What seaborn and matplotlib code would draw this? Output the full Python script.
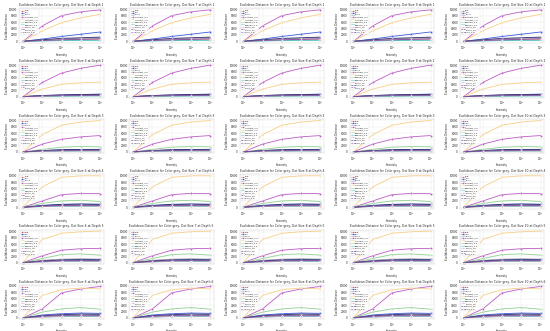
import matplotlib
matplotlib.use("Agg")
import matplotlib.pyplot as plt
import seaborn as sns
import pandas as pd

sns.set_theme(style="whitegrid")
plt.rcParams['font.family'] = ['DejaVu Sans']

depths = [1, 2, 3, 4, 5, 6]
dot_sizes = [6, 7, 8, 9, 10]
x_labels = ["$10^{0}$", "$10^{1}$", "$10^{2}$", "$10^{3}$", "$10^{4}$"]
x_pos = [0, 1, 2, 3, 4]

series_names = ["orig", "blur", "noise", "contrast_0.5", "contrast_1.5",
                "gamma_0.5", "gamma_2.0", "rotate_15", "rotate_45", "scale_0.8"]
series_colors = ['#d6616b', '#3b5bdb', '#9e9e9e', '#bb5cc4', '#f7cf86',
                 '#8fd18f', '#4fc3c7', '#f4a6c6', '#2b2d6e', '#7b4fa0']
series_markers = ['o', 's', '^', 'D', 'v', '<', '>', 'p', '*', 'x']

# values per depth (rows), one list per series
depth1 = [
    [0, 200, 400, 500, 600],
    [0, 700, 1500, 2200, 2900],
    [0, 400, 700, 900, 1100],
    [0, 4800, 8000, 9200, 9800],
    [0, 3300, 5800, 7300, 8400],
    [0, 150, 300, 400, 450],
    [0, 100, 200, 250, 300],
    [0, 300, 500, 600, 700],
    [0, 500, 900, 1100, 1300],
    [0, 250, 450, 600, 800],
]
depth2 = [
    [0, 150, 250, 300, 350],
    [0, 300, 500, 650, 800],
    [0, 250, 400, 500, 600],
    [0, 4500, 7500, 9000, 10000],
    [0, 2400, 3900, 4400, 4600],
    [0, 120, 200, 250, 300],
    [0, 100, 150, 200, 220],
    [0, 200, 350, 400, 450],
    [0, 350, 550, 650, 700],
    [0, 200, 300, 380, 420],
]
depth3 = [
    [0, 200, 300, 350, 350],
    [0, 400, 650, 750, 800],
    [0, 350, 550, 600, 650],
    [0, 2500, 4000, 4800, 5200],
    [0, 5500, 8500, 9500, 10000],
    [0, 800, 1500, 1700, 1600],
    [0, 150, 250, 300, 300],
    [0, 250, 400, 450, 450],
    [0, 450, 700, 800, 800],
    [0, 300, 450, 500, 520],
]
depth4 = [
    [0, 250, 350, 400, 380],
    [0, 600, 900, 1000, 950],
    [0, 400, 650, 700, 680],
    [0, 2000, 4000, 4400, 4300],
    [0, 6500, 9500, 10000, 10000],
    [0, 1200, 2000, 2200, 1800],
    [0, 200, 300, 350, 330],
    [0, 300, 450, 500, 480],
    [0, 500, 900, 1000, 900],
    [0, 350, 550, 600, 580],
]
depth5 = [
    [0, 250, 400, 450, 420],
    [0, 600, 950, 1050, 1000],
    [0, 700, 1100, 1200, 1100],
    [0, 2200, 4000, 4500, 4600],
    [0, 7500, 9500, 10000, 10200],
    [0, 1300, 2600, 2800, 2400],
    [0, 200, 350, 380, 360],
    [0, 300, 500, 550, 520],
    [0, 500, 800, 900, 850],
    [0, 400, 600, 650, 620],
]
depth6 = [
    [0, 300, 450, 500, 480],
    [0, 900, 1300, 1500, 1400],
    [0, 600, 900, 1000, 950],
    [0, 2800, 7800, 9000, 9800],
    [0, 7000, 8800, 9300, 9000],
    [0, 1800, 2800, 3200, 2700],
    [0, 250, 400, 450, 430],
    [0, 400, 600, 650, 620],
    [0, 700, 1000, 1200, 1100],
    [0, 500, 750, 800, 780],
]
all_depths = [depth1, depth2, depth3, depth4, depth5, depth6]

fig, axes = plt.subplots(6, 5, figsize=(5.5, 3.31), dpi=100)
fig.subplots_adjust(left=0.035, right=0.99, top=0.975, bottom=0.035,
                    wspace=0.3, hspace=0.6)

for r, depth in enumerate(depths):
    data = all_depths[r]
    for c, ds in enumerate(dot_sizes):
        ax = axes[r, c]
        for i, name in enumerate(series_names):
            df = pd.DataFrame({"x": x_pos, "y": data[i]})
            sns.lineplot(data=df, x="x", y="y", ax=ax, color=series_colors[i],
                         marker=series_markers[i], markersize=1.4,
                         linewidth=0.6, label=name, markeredgewidth=0.2)
        ax.set_title(f"Euclidean Distance for Color grey, Dot Size {ds} at Depth {depth}",
                     fontsize=2.2, pad=1.5)
        ax.set_xlabel("Intensity", fontsize=2.0, labelpad=0.5)
        ax.set_ylabel("Euclidean Distance", fontsize=2.0, labelpad=0.5)
        ax.set_xticks(x_pos)
        ax.set_xticklabels(x_labels)
        ax.tick_params(axis='both', labelsize=2.0, pad=0.5, length=0.8, width=0.3)
        ax.grid(True, linewidth=0.25, color='#e6e6e6')
        for sp in ax.spines.values():
            sp.set_linewidth(0.3)
            sp.set_color('#cccccc')
        leg = ax.legend(loc='upper left', fontsize=1.6, frameon=True,
                        handlelength=1.5, borderpad=0.2, labelspacing=0.2,
                        handletextpad=0.3, markerscale=0.8)
        leg.get_frame().set_linewidth(0.2)
        for line in leg.get_lines():
            line.set_linewidth(0.4)

fig.savefig("out.png", dpi=100)
